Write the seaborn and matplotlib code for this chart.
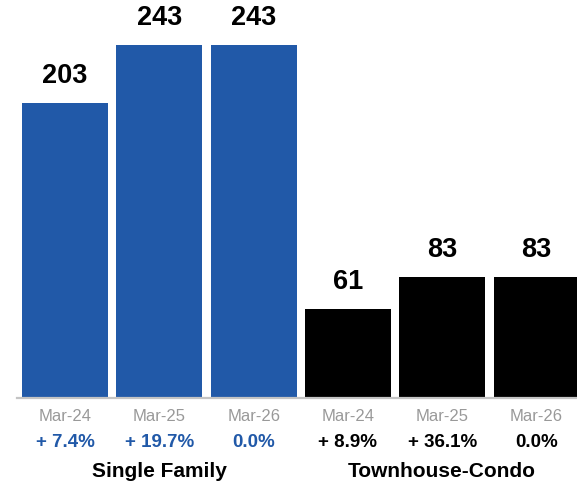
import matplotlib
matplotlib.use("Agg")
import matplotlib.pyplot as plt
import seaborn as sns
import pandas as pd

sns.set_theme(style="white")
plt.rcParams["font.family"] = ["Liberation Sans", "DejaVu Sans"]

# Closed sales by property type, March of each year
periods = ["Mar-24", "Mar-25", "Mar-26", "Mar-24", "Mar-25", "Mar-26"]
values = [203, 243, 243, 61, 83, 83]
changes = ["+ 7.4%", "+ 19.7%", "0.0%", "+ 8.9%", "+ 36.1%", "0.0%"]
groups = ["Single Family", "Townhouse-Condo"]
group_sizes = [3, 3]

BLUE = "#2159a8"
BLACK = "#000000"
colors = [BLUE] * group_sizes[0] + [BLACK] * group_sizes[1]
text_colors = colors

df = pd.DataFrame({"idx": list(range(len(values))), "value": values})

fig = plt.figure(figsize=(5.77, 4.86), dpi=100)
ax = fig.add_axes([17 / 577, 88 / 486, 560 / 577, 398 / 486])

sns.barplot(data=df, x="idx", y="value", hue="idx", palette=colors,
            legend=False, width=0.91, saturation=1, linewidth=0, ax=ax)

ax.set_xlim(-0.51, 5.43)
ax.set_ylim(0, 274)
ax.set_xlabel("")
ax.set_ylabel("")
ax.set_yticks([])

for s in ["top", "left", "right"]:
    ax.spines[s].set_visible(False)
ax.spines["bottom"].set_color("#c4c4c4")
ax.spines["bottom"].set_linewidth(1.6)

ax.set_xticks(range(len(periods)))
ax.set_xticklabels(periods, color="#999999", fontsize=12)
ax.tick_params(axis="x", which="major", length=0, pad=8)
ax.set_xticks([-0.5, 2.5], minor=True)
ax.tick_params(axis="x", which="minor", length=5.5, width=1.4, color="#c4c4c4")

# value labels above bars
for i, v in enumerate(values):
    ax.annotate(str(v), xy=(i, v), xytext=(0, 19.5), textcoords="offset points",
                ha="center", va="center", fontsize=19.5, fontweight="bold", color="black")

# year-over-year change under each period
xt = ax.get_xaxis_transform()
for i, c in enumerate(changes):
    ax.text(i, -44 / 398, c, transform=xt, ha="center", va="center",
            fontsize=13.5, fontweight="bold", color=text_colors[i])

# group names
start = 0
for g, n in zip(groups, group_sizes):
    center = start + (n - 1) / 2
    ax.text(center, -73 / 398, g, transform=xt, ha="center", va="center",
            fontsize=15, fontweight="bold", color="black")
    start += n

fig.savefig("out.png", dpi=100)
